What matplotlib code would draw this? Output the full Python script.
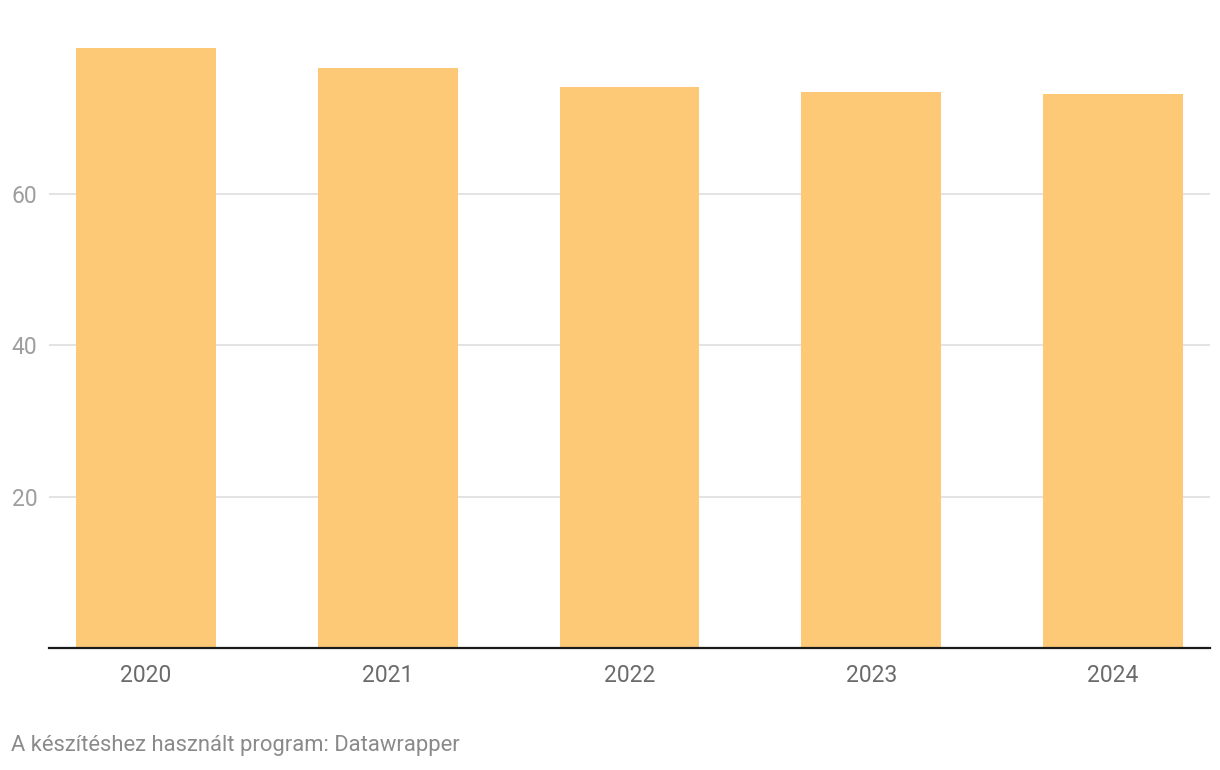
import matplotlib
matplotlib.use("Agg")
from matplotlib import pyplot as plt

# Data
years = ["2020", "2021", "2022", "2023", "2024"]
values = [79.3, 76.6, 74.1, 73.4, 73.2]
y_ticks = [20, 40, 60]

plt.rcParams['font.family'] = ['Roboto', 'DejaVu Sans']

fig = plt.figure(figsize=(12.2, 7.7), dpi=100)
ax = fig.add_axes([49 / 1220, 1 - 648 / 770, 1161 / 1220, (648 - 42.4) / 770])

x = range(len(years))
ax.bar(x, values, width=0.579, color="#fdc977", zorder=2)

ax.set_xlim(-0.401, len(years) - 1 + 0.401)
ax.set_ylim(0, 80)

# Gridlines
ax.set_yticks(y_ticks)
ax.yaxis.grid(True, color="#e3e3e3", linewidth=1.4, zorder=0)
ax.set_axisbelow(True)

for side in ["top", "right", "left"]:
    ax.spines[side].set_visible(False)
ax.spines["bottom"].set_color("#1a1a1a")
ax.spines["bottom"].set_linewidth(1.6)
ax.spines["bottom"].set_zorder(3)

ax.set_xticks(list(x))
ax.set_xticklabels(years)
ax.tick_params(axis="x", length=0, pad=11.5, labelsize=16.5, labelcolor="#6b6b6b")
ax.tick_params(axis="y", length=0, pad=8.5, labelsize=16.5, labelcolor="#9e9e9e")

# Footer
fig.text(11 / 1220, 1 - 746 / 770, "A készítéshez használt program: Datawrapper",
         fontsize=15.8, color="#8a8a8a", ha="left", va="center")

fig.savefig("out.png", dpi=100)
